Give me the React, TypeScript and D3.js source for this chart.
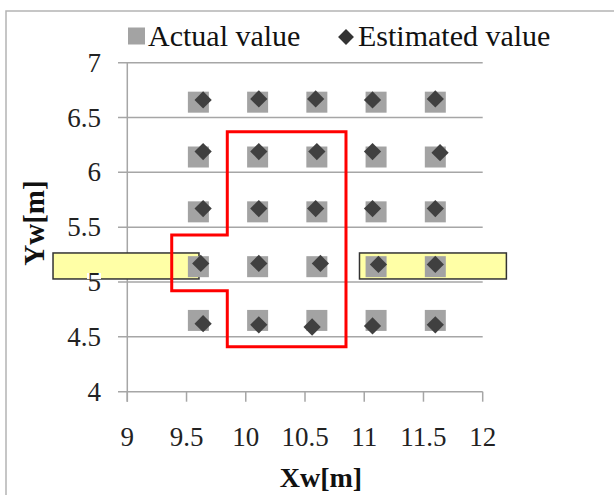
import React from "react";
import * as d3 from "d3";

// actual positions (grey squares)
const actualX = [9.6, 10.1, 10.6, 11.1, 11.6];
const actualY = [6.64, 6.14, 5.64, 5.14, 4.65];

// estimated positions (dark diamonds), one row per actual row
const estX = [
  [9.64, 10.11, 10.59, 11.07, 11.6],
  [9.64, 10.11, 10.6, 11.07, 11.64],
  [9.64, 10.11, 10.59, 11.07, 11.6],
  [9.62, 10.11, 10.63, 11.12, 11.6],
  [9.64, 10.11, 10.56, 11.07, 11.6],
];
const estY = [
  [6.66, 6.67, 6.67, 6.66, 6.67],
  [6.19, 6.19, 6.19, 6.19, 6.18],
  [5.67, 5.67, 5.67, 5.67, 5.67],
  [5.17, 5.17, 5.17, 5.16, 5.16],
  [4.62, 4.61, 4.59, 4.6, 4.61],
];

// red outline region
const regionX = [9.844, 10.846, 10.846, 9.844, 9.844, 9.375, 9.375, 9.844];
const regionY = [6.371, 6.371, 4.41, 4.41, 4.921, 4.921, 5.429, 5.429];

// yellow bars [x0, x1], shared y range
const barsX = [[8.373, 9.605], [10.96, 12.2]];
const barsY = [5.028, 5.265];

const xTicks = [9, 9.5, 10, 10.5, 11, 11.5, 12];
const yTicks = [4, 4.5, 5, 5.5, 6, 6.5, 7];

const serif = "'Liberation Serif', 'Times New Roman', serif";

export default function App() {
  const x = d3.scaleLinear().domain([9, 12]).range([127.3, 482.7]);
  const y = d3.scaleLinear().domain([4, 7]).range([391.7, 62.7]);

  const squareSize = 21;
  const diamond = d3.symbol().type(d3.symbolDiamond2).size(190)();
  const legendDiamond = d3.symbol().type(d3.symbolDiamond2).size(160)();

  const regionPath =
    d3.line<number>()
      .x((d) => x(regionX[d]))
      .y((d) => y(regionY[d]))(regionX.map((_, i) => i)) + "Z";

  const points: { x: number; y: number }[] = [];
  actualY.forEach((ay) => actualX.forEach((ax) => points.push({ x: ax, y: ay })));
  const estimates: { x: number; y: number }[] = [];
  estX.forEach((row, r) =>
    row.forEach((ex, c) => estimates.push({ x: ex, y: estY[r][c] }))
  );

  return (
    <svg
      width={614}
      height={495}
      style={{ position: "absolute", left: 0, top: 0, background: "#fff" }}
    >
      <rect x={6} y={11} width={700} height={600} fill="#fff" stroke="#b4b4b4" strokeWidth={1.5} />

      {/* gridlines */}
      {yTicks.map((t) => (
        <line key={"g" + t} x1={118} x2={x(12)} y1={y(t)} y2={y(t)} stroke="#a6a6a6" strokeWidth={1.5} />
      ))}
      <line x1={x(9)} x2={x(9)} y1={y(7)} y2={y(4) + 10} stroke="#a6a6a6" strokeWidth={1.5} />
      {xTicks.map((t) => (
        <line key={"t" + t} x1={x(t)} x2={x(t)} y1={y(4)} y2={y(4) + 10} stroke="#a6a6a6" strokeWidth={1.5} />
      ))}

      {/* yellow bars */}
      {barsX.map((b, i) => (
        <rect
          key={"b" + i}
          x={x(b[0])}
          y={y(barsY[1])}
          width={x(b[1]) - x(b[0])}
          height={y(barsY[0]) - y(barsY[1])}
          fill="#ffffa6"
          stroke="#333"
          strokeWidth={1.5}
        />
      ))}

      {/* tick labels */}
      <rect x={87} y={y(5) - 9} width={14} height={y(barsY[0]) - y(5) + 9} fill="#fff" />
      {yTicks.map((t) => (
        <text key={"yl" + t} x={101} y={y(t) + 9} textAnchor="end" fontFamily={serif} fontSize={27} fill="#222">
          {t}
        </text>
      ))}
      {xTicks.map((t) => (
        <text key={"xl" + t} x={x(t)} y={446} textAnchor="middle" fontFamily={serif} fontSize={27} fill="#222">
          {t}
        </text>
      ))}

      {/* actual */}
      {points.map((p, i) => (
        <rect
          key={"a" + i}
          x={x(p.x) - squareSize / 2}
          y={y(p.y) - squareSize / 2}
          width={squareSize}
          height={squareSize}
          fill="#a3a3a3"
        />
      ))}
      {/* estimated */}
      {estimates.map((p, i) => (
        <path key={"e" + i} d={diamond || ""} transform={`translate(${x(p.x)},${y(p.y)})`} fill="#404040" />
      ))}

      {/* region outline */}
      <path d={regionPath} fill="none" stroke="#ff0000" strokeWidth={3} />

      {/* legend */}
      <rect x={128} y={27.5} width={17} height={17} fill="#a3a3a3" />
      <text x={148} y={46} fontFamily={serif} fontSize={30} fill="#111">Actual value</text>
      <path d={legendDiamond || ""} transform="translate(346,37)" fill="#333" />
      <text x={358} y={46} fontFamily={serif} fontSize={30} fill="#111">Estimated value</text>

      {/* axis titles */}
      <text x={321} y={487} textAnchor="middle" fontFamily={serif} fontWeight="bold" fontSize={28} fill="#111">
        Xw[m]
      </text>
      <text
        transform="translate(44,223) rotate(-90)"
        textAnchor="middle"
        fontFamily={serif}
        fontWeight="bold"
        fontSize={29}
        fill="#111"
      >
        Yw[m]
      </text>
    </svg>
  );
}
